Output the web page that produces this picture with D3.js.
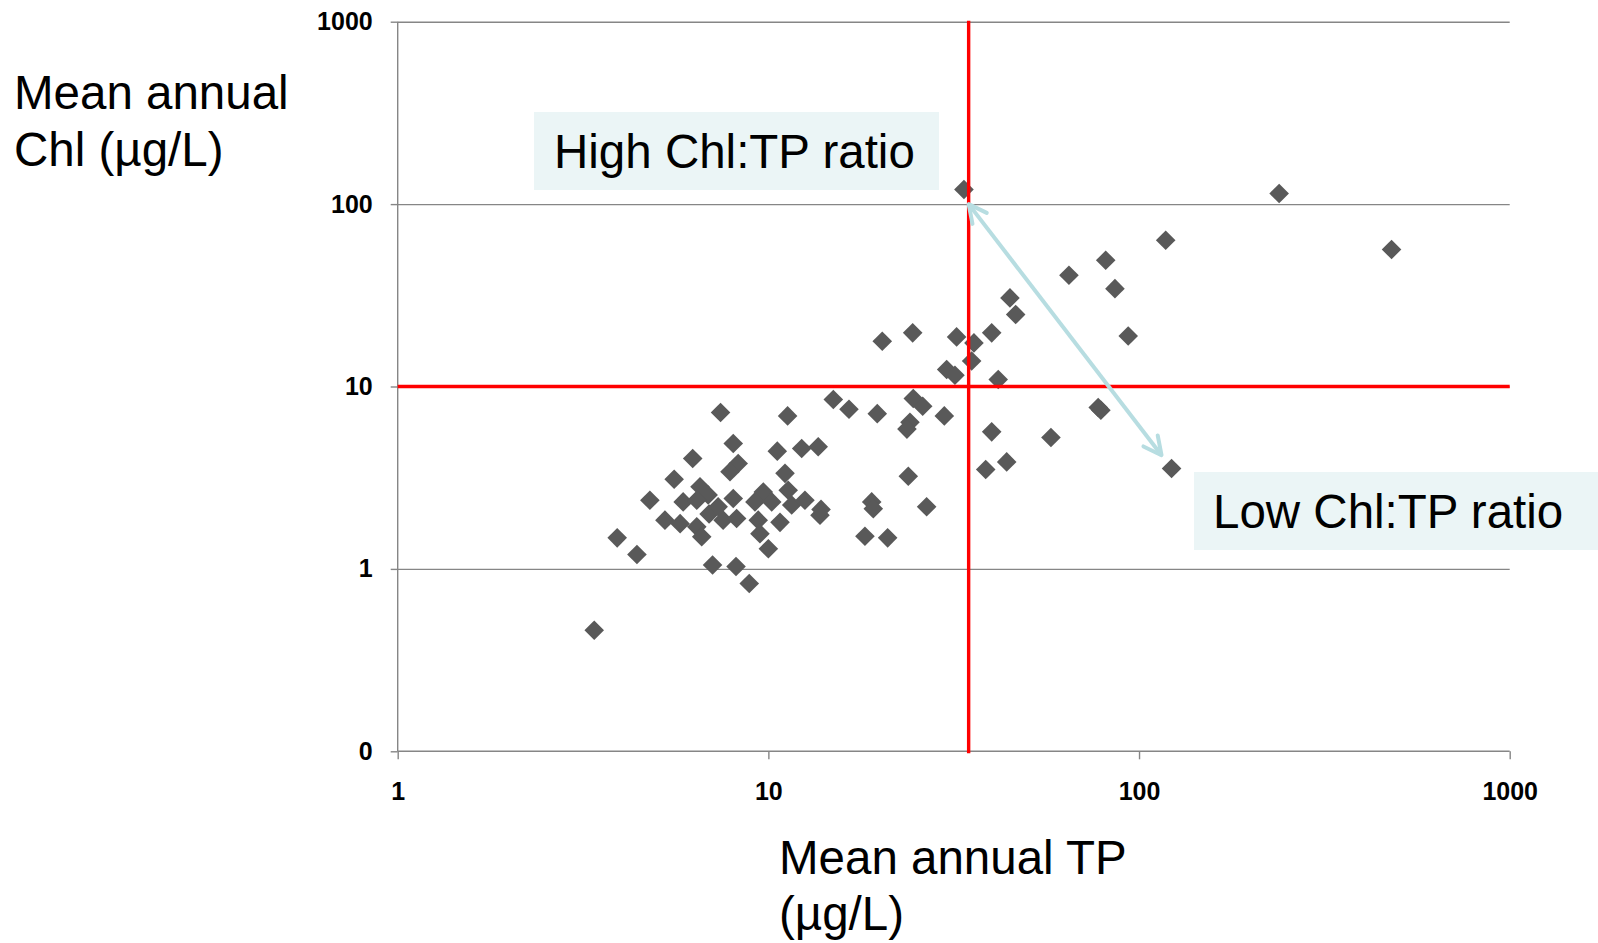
<!DOCTYPE html>
<html>
<head>
<meta charset="utf-8">
<script src="https://cdn.jsdelivr.net/npm/d3@7"></script>
<style>
  html, body { margin: 0; padding: 0; background: #fff; }
  svg { display: block; }
  text { font-family: "Liberation Sans", Arial, Helvetica, sans-serif; }
</style>
</head>
<body>
<svg id="chart" width="1598" height="943"></svg>
<script>
// ---- Data ----
const tpValues = [3.39,3.91,4.42,4.79,5.26,5.57,5.78,5.89,6.25,6.41,
  6.54,6.88,6.41,6.61,6.92,7.07,7.43,8.04,8.29,7.88,
  10.57,12.30,13.63,11.09,11.27,8.04,7.32,7.55,8.21,9.69,
  9.20,10.21,11.31,11.56,12.55,13.78,9.39,9.49,10.75,10.0,
  8.18,8.88,13.87,
  14.97,16.50,19.67,24.60,26.08,24.10,23.65,29.83,
  23.85,19.00,19.19,26.73,18.22,20.98,40.04,38.58,43.95,57.86,
  77.6,78.9,122.4,41.7,35.35,30.27,31.87,20.29,24.51,32.2,
  35.86,40.04,44.85,46.47,64.7,81.3,86.1,93.5,118.0,238.8,
  480,33.7];
const chlValues = [0.461,1.48,1.20,2.38,1.85,3.10,1.77,2.33,4.03,1.70,
  2.82,2.54,2.38,1.50,2.00,1.05,7.20,4.87,3.78,3.41,
  4.42,4.57,4.67,3.34,6.90,2.43,2.19,1.85,1.89,2.64,
  2.33,2.33,2.70,2.24,2.38,1.97,1.85,1.56,1.80,1.29,
  1.03,0.832,2.12,
  8.49,7.51,7.10,8.59,7.80,6.37,5.84,6.90,
  3.22,2.33,2.14,2.19,1.51,1.48,5.64,3.51,3.86,5.25,
  7.67,7.41,3.55,10.92,13.8,12.39,11.53,17.71,19.68,18.7,
  17.34,19.68,30.6,24.8,40.7,49.2,34.4,18.9,63.4,114.3,
  56.4,120.2];

const xTickValues = [1, 10, 100, 1000];
const xTickLabels = ["1", "10", "100", "1000"];
const yTickValues = [0.1, 1, 10, 100, 1000];
const yTickLabels = ["0", "1", "10", "100", "1000"];

const thresholdTP = 34.7;  // vertical red line
const thresholdChl = 10;   // horizontal red line

// arrow between the two ratio labels (data coordinates)
const arrowStart = [34.7, 100];
const arrowEnd = [115, 4.2];

const yTitleLines = ["Mean annual", "Chl (\u00b5g/L)"];
const xTitleLines = ["Mean annual TP", "(\u00b5g/L)"];
const highLabel = "High Chl:TP ratio";
const lowLabel = "Low Chl:TP ratio";

// ---- Layout ----
const plot = { left: 397.7, right: 1509.7, top: 21.7, bottom: 751.3 };
const svg = d3.select("#chart");

const x = d3.scaleLog().domain([1, 1000]).range([plot.left, plot.right]);
const y = d3.scaleLog().domain([0.1, 1000]).range([plot.bottom, plot.top]);

const gridColor = "#868686";

// gridlines
const grid = svg.append("g")
  .attr("transform", `translate(${plot.left},0)`)
  .call(d3.axisLeft(y).tickValues(yTickValues.filter(v => v !== 0.1))
    .tickSize(-(plot.right - plot.left)).tickFormat(""));
grid.select(".domain").remove();
grid.selectAll("line").attr("stroke", gridColor).attr("stroke-width", 1.4);

// y axis
const yAxis = svg.append("g")
  .attr("transform", `translate(${plot.left},0)`)
  .call(d3.axisLeft(y).tickValues(yTickValues)
    .tickFormat((d, i) => yTickLabels[yTickValues.indexOf(d)])
    .tickSize(7).tickPadding(18));
yAxis.select(".domain").attr("stroke", gridColor).attr("stroke-width", 1.4)
  .attr("d", `M0,${plot.top}V${plot.bottom}`);
yAxis.selectAll(".tick line").attr("stroke", gridColor).attr("stroke-width", 1.4);
yAxis.selectAll(".tick text")
  .attr("fill", "#000").style("font-size", "25px").style("font-weight", "bold");

// x axis
const xAxis = svg.append("g")
  .attr("transform", `translate(0,${plot.bottom})`)
  .call(d3.axisBottom(x).tickValues(xTickValues)
    .tickFormat((d) => xTickLabels[xTickValues.indexOf(d)])
    .tickSize(8).tickPadding(23));
xAxis.select(".domain").attr("stroke", gridColor).attr("stroke-width", 1.4)
  .attr("d", `M${plot.left},0H${plot.right}`);
xAxis.selectAll(".tick line").attr("stroke", gridColor).attr("stroke-width", 1.4);
xAxis.selectAll(".tick text")
  .attr("fill", "#000").style("font-size", "25px").style("font-weight", "bold");

// points (diamonds)
const points = tpValues.map((t, i) => ({ tp: t, chl: chlValues[i] }));
const r = 9.8;
svg.append("g").selectAll("path").data(points).join("path")
  .attr("d", `M0,${-r}L${r},0L0,${r}L${-r},0Z`)
  .attr("transform", d => `translate(${x(d.tp)},${y(d.chl)})`)
  .attr("fill", "#595959");

// red threshold lines
svg.append("line")
  .attr("x1", x(thresholdTP)).attr("x2", x(thresholdTP))
  .attr("y1", plot.top - 1).attr("y2", plot.bottom + 2)
  .attr("stroke", "#ff0000").attr("stroke-width", 3.4);
svg.append("line")
  .attr("x1", plot.left).attr("x2", plot.right)
  .attr("y1", y(thresholdChl)).attr("y2", y(thresholdChl))
  .attr("stroke", "#ff0000").attr("stroke-width", 3.4);

// arrow
const arrowColor = "#b7dde1";
const defs = svg.append("defs");
defs.append("marker")
  .attr("id", "arrowhead")
  .attr("viewBox", "0 0 24 24")
  .attr("refX", 22).attr("refY", 12)
  .attr("markerWidth", 24).attr("markerHeight", 24)
  .attr("markerUnits", "userSpaceOnUse")
  .attr("orient", "auto-start-reverse")
  .append("path")
  .attr("d", "M4,3 L22,12 L4,21")
  .attr("fill", "none").attr("stroke", arrowColor)
  .attr("stroke-width", 4).attr("stroke-linecap", "round").attr("stroke-linejoin", "round");

svg.append("line")
  .attr("x1", x(arrowStart[0])).attr("y1", y(arrowStart[1]))
  .attr("x2", x(arrowEnd[0])).attr("y2", y(arrowEnd[1]))
  .attr("stroke", arrowColor).attr("stroke-width", 4)
  .attr("marker-start", "url(#arrowhead)")
  .attr("marker-end", "url(#arrowhead)");

// label boxes
const boxFill = "#ebf5f6";
svg.append("rect").attr("x", 534).attr("y", 112).attr("width", 405).attr("height", 78).attr("fill", boxFill);
svg.append("text").attr("x", 554).attr("y", 168).text(highLabel)
  .style("font-size", "47.5px").attr("fill", "#000");

svg.append("rect").attr("x", 1194).attr("y", 472).attr("width", 404).attr("height", 78).attr("fill", boxFill);
svg.append("text").attr("x", 1213).attr("y", 528).text(lowLabel)
  .style("font-size", "47.5px").attr("fill", "#000");

// axis titles
const yt = svg.append("text").attr("x", 14).attr("y", 109).style("font-size", "47.5px").attr("fill", "#000");
yTitleLines.forEach((l, i) => yt.append("tspan").attr("x", 14).attr("dy", i === 0 ? 0 : 57).text(l));

const xt = svg.append("text").attr("x", 779).attr("y", 874).style("font-size", "47.5px").attr("fill", "#000");
xTitleLines.forEach((l, i) => xt.append("tspan").attr("x", 779).attr("dy", i === 0 ? 0 : 56).text(l));
</script>
</body>
</html>
